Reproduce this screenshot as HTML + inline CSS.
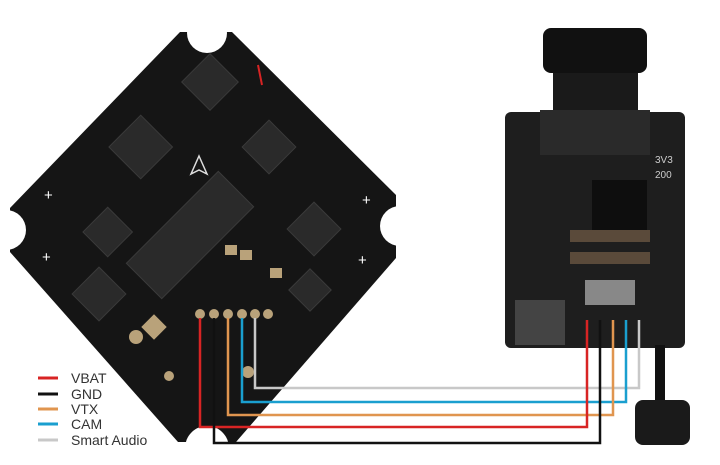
<!DOCTYPE html>
<html><head><meta charset="utf-8"><style>
html,body{margin:0;padding:0;background:#fff;}
svg{display:block}
text{font-family:"Liberation Sans",sans-serif;}
</style></head><body>
<svg width="720" height="465" viewBox="0 0 720 465" xmlns="http://www.w3.org/2000/svg">
<rect width="720" height="465" fill="#fff"/>
<!-- flight controller board -->
<polygon points="180,32 232,32 396,195 396,258 236,442 178,442 10,252 10,208" fill="#151515"/>
<circle cx="207" cy="33" r="20" fill="#fff"/>
<circle cx="400" cy="226" r="20" fill="#fff"/>
<circle cx="207" cy="448" r="22" fill="#fff"/>
<circle cx="6" cy="230" r="20" fill="#fff"/>
<g fill="#2a2a2a" stroke="#3a3a3a">
<rect x="125" y="210" width="130" height="50" transform="rotate(-45 190 235)"/>
<rect x="190" y="62" width="40" height="40" transform="rotate(-45 210 82)"/>
<rect x="118" y="125" width="45" height="45" transform="rotate(-45 140 147)"/>
<rect x="250" y="128" width="38" height="38" transform="rotate(-45 269 147)"/>
<rect x="295" y="210" width="38" height="38" transform="rotate(-45 314 229)"/>
<rect x="90" y="215" width="35" height="35" transform="rotate(-45 107 232)"/>
<rect x="80" y="275" width="38" height="38" transform="rotate(-45 99 294)"/>
<rect x="295" y="275" width="30" height="30" transform="rotate(-45 310 290)"/>
</g>
<g fill="#b9a27a">
<circle cx="200" cy="314" r="5"/><circle cx="214" cy="314" r="5"/><circle cx="228" cy="314" r="5"/><circle cx="242" cy="314" r="5"/><circle cx="255" cy="314" r="5"/><circle cx="268" cy="314" r="5"/>
<rect x="145" y="318" width="18" height="18" transform="rotate(-45 154 327)"/>
<circle cx="136" cy="337" r="7"/><circle cx="169" cy="376" r="5"/>
<circle cx="248" cy="372" r="6"/>
<rect x="225" y="245" width="12" height="10"/><rect x="240" y="250" width="12" height="10"/><rect x="270" y="268" width="12" height="10"/>
</g>
<g fill="#fff" font-size="15">
<text x="44" y="200">+</text><text x="362" y="205">+</text><text x="42" y="262">+</text><text x="358" y="265">+</text>
</g>
<path d="M199 156 L207 174 L199 170 L191 174 Z" fill="none" stroke="#ddd" stroke-width="1.5"/>
<path d="M258 65 L262 85" stroke="#d82424" stroke-width="2"/>
<!-- camera -->
<rect x="553" y="60" width="85" height="60" fill="#1a1a1a"/>
<rect x="543" y="28" width="104" height="45" rx="8" fill="#111"/>
<rect x="505" y="112" width="180" height="236" rx="6" fill="#1e1e1e"/>
<rect x="540" y="110" width="110" height="45" fill="#2a2a2a"/>
<rect x="592" y="180" width="55" height="50" fill="#0e0e0e"/>
<rect x="515" y="300" width="50" height="45" fill="#444"/>
<rect x="585" y="280" width="50" height="25" fill="#888"/>
<rect x="570" y="230" width="80" height="12" fill="#5a4a3a"/>
<rect x="570" y="252" width="80" height="12" fill="#5a4a3a"/>
<text x="655" y="163" fill="#ccc" font-size="10">3V3</text>
<text x="655" y="178" fill="#ccc" font-size="10">200</text>
<!-- antenna -->
<rect x="655" y="345" width="10" height="60" fill="#111"/>
<rect x="635" y="400" width="55" height="45" rx="8" fill="#1a1a1a"/>
<!-- wires -->
<g fill="none" stroke-width="2.5">
<polyline points="255,318 255,388 639,388 639,320" stroke="#c8c8c8"/>
<polyline points="242,318 242,402 626,402 626,320" stroke="#1a9fcf"/>
<polyline points="228,318 228,415 613,415 613,320" stroke="#e0954f"/>
<polyline points="200,318 200,427 587,427 587,320" stroke="#d82424"/>
<polyline points="214,318 214,443 600,443 600,320" stroke="#111"/>
</g>
<!-- legend -->
<g stroke-width="3">
<line x1="38" y1="378" x2="58" y2="378" stroke="#d82424"/>
<line x1="38" y1="394" x2="58" y2="394" stroke="#111"/>
<line x1="38" y1="409" x2="58" y2="409" stroke="#e0954f"/>
<line x1="38" y1="424" x2="58" y2="424" stroke="#1a9fcf"/>
<line x1="38" y1="440" x2="58" y2="440" stroke="#c8c8c8"/>
</g>
<g font-size="14" fill="#333">
<text x="71" y="383">VBAT</text>
<text x="71" y="399">GND</text>
<text x="71" y="414">VTX</text>
<text x="71" y="429">CAM</text>
<text x="71" y="445">Smart Audio</text>
</g>
</svg>
</body></html>
